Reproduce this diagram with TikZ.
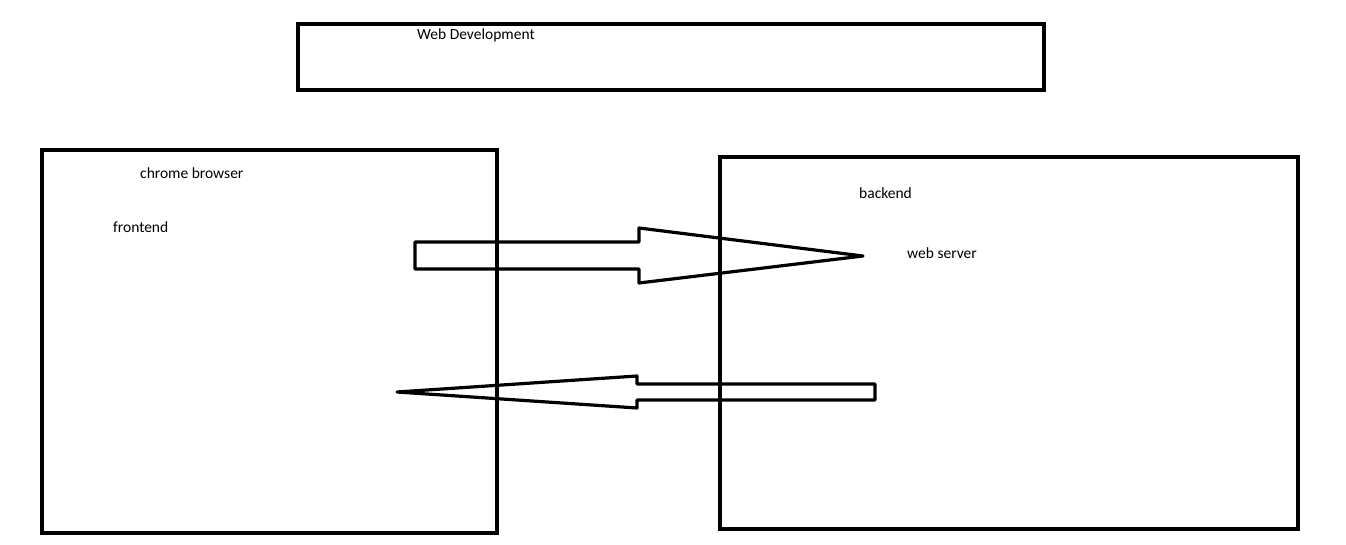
\documentclass[tikz,border=0pt]{standalone}
\usepackage{fontspec}
\setmainfont{Carlito}
\begin{document}
\begin{tikzpicture}[x=1pt,y=-1pt,
  frame/.style={draw=black,line width=4pt,line join=miter},
  blockarrow/.style={draw=black,line width=3.2pt,line join=round},
  label/.style={anchor=base west,inner sep=0pt,font=\fontsize{15.5}{18}\selectfont}]
  \useasboundingbox[fill=white] (0,0) rectangle (1346,545);

  % boxes
  \draw[frame] (298,24) rectangle (1044,90);
  \draw[frame] (42,150) rectangle (497,533);
  \draw[frame] (720,157) rectangle (1298,529);

  % request arrow (browser -> server)
  \draw[blockarrow] (415,242) -- (639,242) -- (639,228) -- (863,256)
    -- (639,283) -- (639,269) -- (415,269) -- cycle;

  % response arrow (server -> browser)
  \draw[blockarrow] (875,384) -- (637,384) -- (637,376) -- (397,392)
    -- (637,408) -- (637,400) -- (875,400) -- cycle;

  % texts
  \node[label] (title)   at (417,40)  {Web Development};
  \node[label] (chrome)  at (140,179) {chrome browser};
  \node[label] (front)   at (113,233) {frontend};
  \node[label] (back)    at (859,199) {backend};
  \node[label] (server)  at (907,259) {web server};
\end{tikzpicture}
\end{document}
